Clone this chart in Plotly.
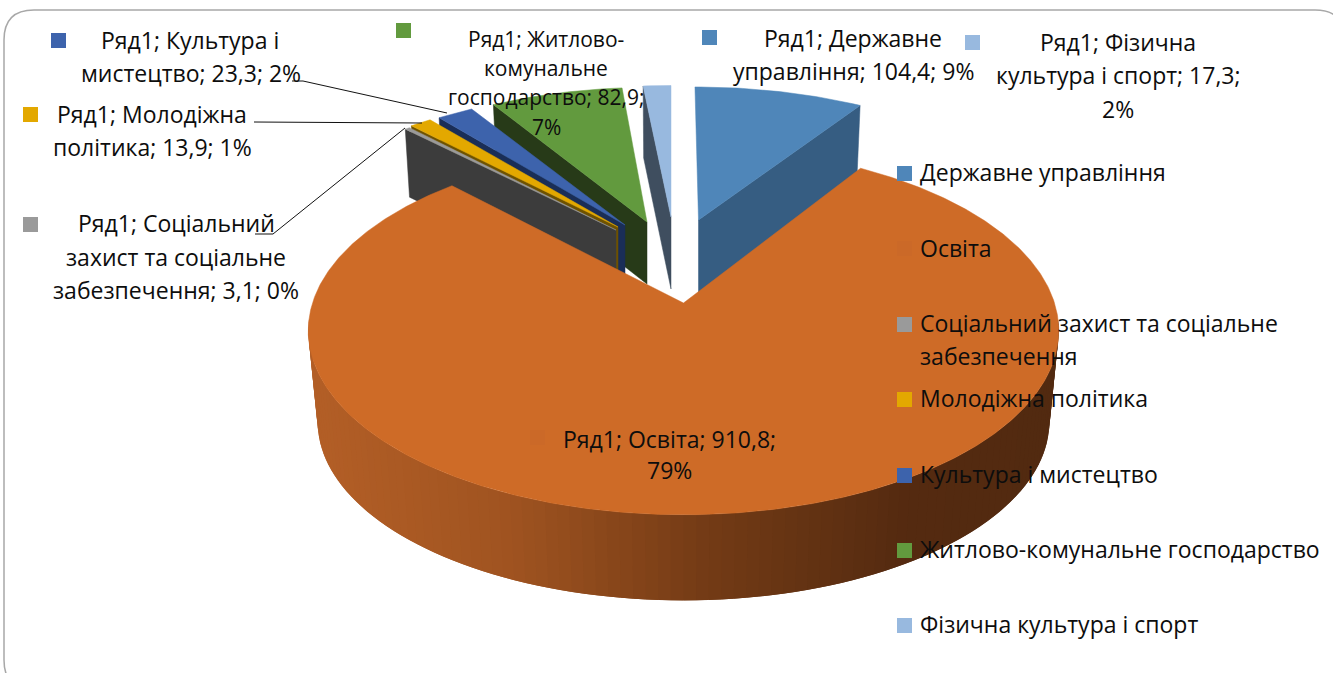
import math
import plotly.graph_objects as go

# --- data ---------------------------------------------------------------
categories = ["Державне управління", "Освіта", "Соціальний захист та соціальне забезпечення",
              "Молодіжна політика", "Культура і мистецтво",
              "Житлово-комунальне господарство", "Фізична культура і спорт"]
values = [104.4, 910.8, 3.1, 13.9, 23.3, 82.9, 17.3]
percents = [9, 79, 0, 1, 2, 7, 2]
series_name = "Ряд1"

top_colors = ["#4F86B9", "#CE6B27", "#9A9A9A", "#E3A800", "#3D63AC", "#629A3E", "#98B9DF"]
key_colors = ["#4F86B9", "#CB6928", "#9A9A9A", "#E3A800", "#3D63AC", "#629A3E", "#98B9DF"]
wall_colors = ["#365D82", None, "#3C3C3C", "#6E5200", "#1A2E57", "#273A18", "#3F4E5F"]
# -------------------------------------------------------------------------

FONT = "Open Sans"
FS = 23
TXT = "#0D0D0D"

total = sum(values)
edges = [0.0]
for v in values:
    edges.append(edges[-1] + v / total * 360.0)

K, A, B = 0.15, 371.0, 180.0
CX, CY = 683.5, 303.0


def proj(theta):
    t = math.radians(theta)
    u, v = math.sin(t), math.cos(t)
    s = 1.0 + K * v
    return A * u / s, -B * v / s


def arc(t0, t1, step=1.0):
    n = max(2, int(abs(t1 - t0) / step) + 1)
    return [t0 + (t1 - t0) * i / (n - 1) for i in range(n)]


def lerp_color(stops, x):
    def fmt(c):
        return "rgb(%d,%d,%d)" % tuple(c)
    if x <= stops[0][0]:
        return fmt(stops[0][1])
    for (x0, c0), (x1, c1) in zip(stops, stops[1:]):
        if x <= x1:
            f = (x - x0) / (x1 - x0)
            return fmt([round(c0[i] + (c1[i] - c0[i]) * f) for i in range(3)])
    return fmt(stops[-1][1])


fig = go.Figure()


def poly(xs, ys, color, line=0.0):
    fig.add_trace(go.Scatter(x=xs + xs[:1], y=ys + ys[:1], mode="lines", fill="toself",
                             fillcolor=color, line=dict(color=color, width=line),
                             hoverinfo="skip", showlegend=False))


# placement of each pulled slice: apex x, apex y, x scale, y scale, skew, wall depth
pulled = {
    6: (671, 217, 0.92, 0.84, 0.0, 72, "left"),
    0: (698.5, 220, 0.93, 0.85, 0.0226, 74, "right"),
    5: (647, 222, 0.916, 0.86, -0.018, 62, "left"),
    4: (625, 225, 0.90, 0.85, 0.0, 66, "left"),
    3: (618, 227, 0.91, 0.85, 0.0, 66, "left"),
    2: (616, 230, 0.91, 0.86, 0.0, 68, "left"),
}

for i in [6, 0, 5, 4, 3, 2]:
    ax, ay, sx, sy, sk, depth, side = pulled[i]
    t0, t1 = edges[i], edges[i + 1]

    def pt(th):
        dx, dy = proj(th)
        return ax + sx * dx + sk * dy, ay + sy * dy

    e = t0 if side == "left" else t1
    ex, ey = pt(e)
    poly([ex, ax, ax, ex - (ex - ax) * 0.02], [ey, ay, ay + depth, ey + depth], wall_colors[i], 0.5)
    pts = [pt(t) for t in arc(t0, t1)]
    poly([ax] + [p[0] for p in pts], [ay] + [p[1] for p in pts], top_colors[i], 0.5)

# Освіта: wall in overlapping strips painted right to left, then the top face
stops = [(318, (178, 94, 38)), (500, (159, 83, 32)), (700, (114, 58, 21)),
         (900, (84, 42, 16)), (1050, (82, 42, 16))]
STEP = 1.7
ths = arc(95, 265, STEP)
for a, b in zip(ths, ths[1:]):
    xa, ya = proj(max(95, a - STEP))   # reach under the strip painted before
    xb, yb = proj(b)
    xm = proj((a + b) / 2)[0]
    q = [(CX + xa, CY + ya), (CX + xb, CY + yb),
         (CX + 0.975 * xb, CY + 0.97 * yb + 92), (CX + 0.975 * xa, CY + 0.97 * ya + 92)]
    poly([p[0] for p in q], [p[1] for p in q], lerp_color(stops, CX + xm), 0.0)

pts = [proj(t) for t in arc(edges[1], edges[2], 0.5)]
poly([CX] + [CX + p[0] for p in pts], [CY] + [CY + p[1] for p in pts], top_colors[1], 0.5)

# leader lines
leaders = [([292, 303, 447], [81, 81, 113]),
           ([254, 422], [122, 123]),
           ([255, 273, 405], [234, 234, 128])]
for lx, ly in leaders:
    fig.add_trace(go.Scatter(x=lx, y=ly, mode="lines", line=dict(color="#111111", width=1),
                             hoverinfo="skip", showlegend=False))

# legend key squares: right-hand legend and the keys of the data labels
legend_y = {0: 173.5, 1: 248.5, 2: 324.5, 3: 399.5, 4: 475.5, 5: 550.5, 6: 625.5}
key_pos = {0: (709.5, 37.5), 1: (537.5, 437.5), 2: (30.5, 224.5), 3: (30.5, 114.5),
           4: (58.5, 40.5), 5: (403.5, 30.5), 6: (972.5, 42.5)}
mx = [904.5] * 7 + [key_pos[i][0] for i in range(7)]
my = [legend_y[i] for i in range(7)] + [key_pos[i][1] for i in range(7)]
mc = key_colors + key_colors
fig.add_trace(go.Scatter(x=mx, y=my, mode="markers",
                         marker=dict(symbol="square", size=15, color=mc, line=dict(width=0)),
                         hoverinfo="skip", showlegend=False))

ann = []


def text(x, y, s, anchor="center", size=FS):
    ann.append(dict(x=x, y=y - 1, text=s, showarrow=False, xanchor=anchor, yanchor="middle",
                    font=dict(family=FONT, size=size, color=TXT), xref="x", yref="y"))


def num(i):
    return f"{values[i]:.1f}".replace(".", ",") + f"; {percents[i]}%"


# data labels, broken as in the picture
for x, y, s in [
    (190, 41, f"{series_name}; Культура і"), (191, 74, f"мистецтво; {num(4)}"),
    (152, 115, f"{series_name}; Молодіжна"), (152, 148, f"політика; {num(3)}"),
    (176, 224, f"{series_name}; Соціальний"), (176, 258, "захист та соціальне"),
    (176, 291, f"забезпечення; {num(2)}"),
    (853, 39, f"{series_name}; Державне"), (853, 72, f"управління; {num(0)}"),
    (1118, 43, f"{series_name}; Фізична"), (1118, 76, "культура і спорт; 17,3;"), (1118, 110, "2%"),
    (669, 440, f"{series_name}; Освіта; 910,8;"), (669, 471, "79%"),
]:
    text(x, y, s)
for x, y, s in [(546, 40, f"{series_name}; Житлово-"), (546, 69, "комунальне"),
                (546, 98, "господарство; 82,9;"), (546, 128, "7%")]:
    text(x, y, s, size=FS - 2)

# right-hand legend text
for i, y in [(0, 173), (1, 249), (3, 399), (4, 475), (5, 550), (6, 625)]:
    text(917.5, y, categories[i], "left")
text(917.5, 324, "Соціальний захист та соціальне", "left")
text(917.5, 357, "забезпечення", "left")

frame = "M 4 40 Q 4 10 34 10 L 1315 10 Q 1345 10 1345 40 L 1345 660 Q 1345 690 1315 690 L 34 690 Q 4 690 4 660 Z"
fig.update_layout(
    width=1333, height=673, margin=dict(l=0, r=0, t=0, b=0),
    paper_bgcolor="white", plot_bgcolor="white", showlegend=False,
    xaxis=dict(range=[0, 1333], visible=False, fixedrange=True),
    yaxis=dict(range=[673, 0], visible=False, fixedrange=True),
    annotations=ann,
    shapes=[dict(type="path", path=frame, xref="x", yref="y", layer="below",
                 line=dict(color="#A8A8A8", width=1.5))],
)

fig.write_html("out.html", config={"displayModeBar": False},
               post_script="document.body.style.margin='0';document.documentElement.style.overflow='hidden';")
